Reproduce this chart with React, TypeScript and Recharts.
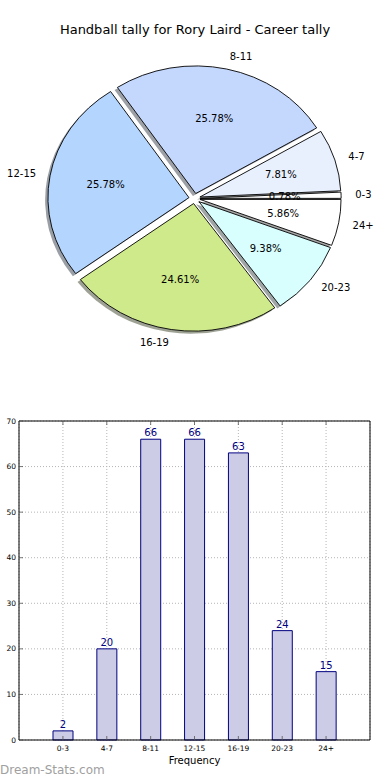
import React from 'react';
import { PieChart, Pie, BarChart, Bar, XAxis, YAxis, CartesianGrid, LabelList } from 'recharts';

const categories = ['0-3', '4-7', '8-11', '12-15', '16-19', '20-23', '24+'];
const tallies = [2, 20, 66, 66, 63, 24, 15];
const yTicks = [0, 10, 20, 30, 40, 50, 60, 70];
const sliceColors = ['#ffffff', '#e8f0fe', '#c4d8fe', '#b4d5fe', '#cfea8b', '#d8fefe', '#ffffff'];

const pieData = categories.map((name, i) => ({ name, value: tallies[i], color: sliceColors[i] }));
const barData = categories.map((name, i) => ({ name, value: tallies[i] }));

const FONT = '"DejaVu Sans", sans-serif';
const RY = 127.6;
const SX = 141 / RY; // matplotlib pie without equal aspect -> stretched sideways
const EXPLODE = 0.04;
const RAD = Math.PI / 180;

function wedgePath(cx: number, cy: number, r: number, start: number, end: number, dx = 0, dy = 0) {
  const rx = r * SX;
  const ry = r;
  const mid = ((start + end) / 2) * RAD;
  const ox = cx + dx + EXPLODE * rx * Math.cos(mid);
  const oy = cy + dy - EXPLODE * ry * Math.sin(mid);
  const x1 = ox + rx * Math.cos(start * RAD);
  const y1 = oy - ry * Math.sin(start * RAD);
  const x2 = ox + rx * Math.cos(end * RAD);
  const y2 = oy - ry * Math.sin(end * RAD);
  const large = Math.abs(end - start) > 180 ? 1 : 0;
  return `M${ox},${oy} L${x1},${y1} A${rx},${ry} 0 ${large} 0 ${x2},${y2} Z`;
}

function shade(hex: string) {
  const n = parseInt(hex.slice(1), 16);
  const r = Math.round(((n >> 16) & 255) * 0.3);
  const g = Math.round(((n >> 8) & 255) * 0.3);
  const b = Math.round((n & 255) * 0.3);
  return `rgb(${r},${g},${b})`;
}

const Wedge = (props: any) => {
  const { cx, cy, outerRadius, startAngle, endAngle, payload } = props;
  return (
    <path
      d={wedgePath(cx, cy, outerRadius, startAngle, endAngle)}
      fill={payload.color}
      stroke="#000"
      strokeWidth={0.9}
    />
  );
};

const ShadowWedge = (props: any) => {
  const { cx, cy, outerRadius, startAngle, endAngle, payload } = props;
  return (
    <path
      d={wedgePath(cx, cy, outerRadius, startAngle, endAngle, -0.02 * outerRadius * SX, 0.02 * outerRadius)}
      fill={shade(payload.color)}
      fillOpacity={0.5}
      stroke="none"
    />
  );
};

const SliceLabel = (props: any) => {
  const { cx, cy, outerRadius, startAngle, endAngle, percent, name } = props;
  const mid = (props.midAngle ?? (startAngle + endAngle) / 2) * RAD;
  const rx = outerRadius * SX;
  const ry = outerRadius;
  const c = Math.cos(mid);
  const s = Math.sin(mid);
  const lx = cx + (1.1 + EXPLODE) * rx * c;
  const ly = cy - (1.1 + EXPLODE) * ry * s;
  const px = cx + (0.6 + EXPLODE) * rx * c;
  const py = cy - (0.6 + EXPLODE) * ry * s;
  return (
    <g>
      <text x={lx} y={ly} textAnchor={c >= 0 ? 'start' : 'end'} dominantBaseline="central"
        fontSize={10} fontFamily={FONT} fill="#000">{name}</text>
      <text x={px} y={py} textAnchor="middle" dominantBaseline="central"
        fontSize={10} fontFamily={FONT} fill="#000">{`${(percent * 100).toFixed(2)}%`}</text>
    </g>
  );
};

const LeftTick = (props: any) => {
  const { x, y, payload } = props;
  return (
    <g>
      <line x1={x + 3} x2={x + 7} y1={y} y2={y} stroke="#555" strokeWidth={0.8} />
      <text x={x} y={y} textAnchor="end" dominantBaseline="central" fontSize={7.5} fontFamily={FONT} fill="#000">
        {payload.value}
      </text>
    </g>
  );
};

const RightTick = (props: any) => {
  const { x, y } = props;
  return <line x1={x - 4} x2={x} y1={y} y2={y} stroke="#555" strokeWidth={0.8} />;
};

const BottomTick = (props: any) => {
  const { x, y, payload } = props;
  return (
    <g>
      <line x1={x} x2={x} y1={y - 8} y2={y - 4} stroke="#555" strokeWidth={0.8} />
      <text x={x} y={y + 4} textAnchor="middle" dominantBaseline="central" fontSize={7.5} fontFamily={FONT} fill="#000">
        {payload.value}
      </text>
    </g>
  );
};

const TopTick = (props: any) => {
  const { x, y } = props;
  return <line x1={x} x2={x} y1={y} y2={y + 4} stroke="#555" strokeWidth={0.8} />;
};

export default function App() {
  return (
    <div style={{ position: 'absolute', left: 0, top: 0, width: 390, height: 780, background: '#fff', fontFamily: FONT }}>
      <div style={{ position: 'absolute', left: 0, top: 22, width: 390, textAlign: 'center', fontSize: 13, color: '#000' }}>
        Handball tally for Rory Laird - Career tally
      </div>
      <div style={{ position: 'absolute', left: 0, top: 0 }}>
        <PieChart width={390} height={380} margin={{ top: 0, right: 0, bottom: 0, left: 0 }}>
          <Pie
            data={pieData}
            dataKey="value"
            nameKey="name"
            cx={194.5}
            cy={198.5}
            outerRadius={RY}
            startAngle={0}
            endAngle={360}
            isAnimationActive={false}
            shape={ShadowWedge}
            stroke="none"
          />
          <Pie
            data={pieData}
            dataKey="value"
            nameKey="name"
            cx={194.5}
            cy={198.5}
            outerRadius={RY}
            startAngle={0}
            endAngle={360}
            isAnimationActive={false}
            shape={Wedge}
            label={SliceLabel}
            labelLine={false}
          />
        </PieChart>
      </div>
      <div style={{ position: 'absolute', left: 0, top: 400 }}>
        <BarChart width={390} height={380} data={barData} margin={{ top: 20, right: 19, bottom: 10, left: 0 }} barSize={20}>
          <Bar dataKey="value" fill="#ccccE6" stroke="#000080" strokeWidth={1} isAnimationActive={false}>
            <LabelList dataKey="value" position="top" offset={3} fill="#000080" fontSize={10} fontFamily={FONT} />
          </Bar>
          <CartesianGrid strokeDasharray="1 2" stroke="#b5b5b5" />
          <XAxis
            dataKey="name"
            padding={{ left: 22, right: 22 }}
            interval={0}
            height={30}
            tickSize={0}
            tickMargin={4}
            tickLine={false}
            tick={BottomTick}
            axisLine={{ stroke: '#000' }}
            label={{ value: 'Frequency', position: 'insideBottom', offset: 6, fontSize: 10, fontFamily: FONT, fill: '#000' }}
          />
          <XAxis xAxisId="top" dataKey="name" orientation="top" padding={{ left: 22, right: 22 }} interval={0}
            height={1} tickSize={0} tickMargin={0} tickLine={false} tick={TopTick} axisLine={{ stroke: '#000' }} />
          <YAxis
            domain={[0, 70]}
            ticks={yTicks}
            width={19}
            tickSize={0}
            tickMargin={3}
            tickLine={false}
            tick={LeftTick}
            axisLine={{ stroke: '#000' }}
          />
          <YAxis yAxisId="right" orientation="right" domain={[0, 70]} ticks={yTicks} width={1}
            tickSize={0} tickMargin={0} tickLine={false} tick={RightTick} axisLine={{ stroke: '#000' }} />
        </BarChart>
      </div>
      <div style={{ position: 'absolute', left: 0, top: 763, fontSize: 12, color: '#a0a0a0' }}>Dream-Stats.com</div>
    </div>
  );
}
